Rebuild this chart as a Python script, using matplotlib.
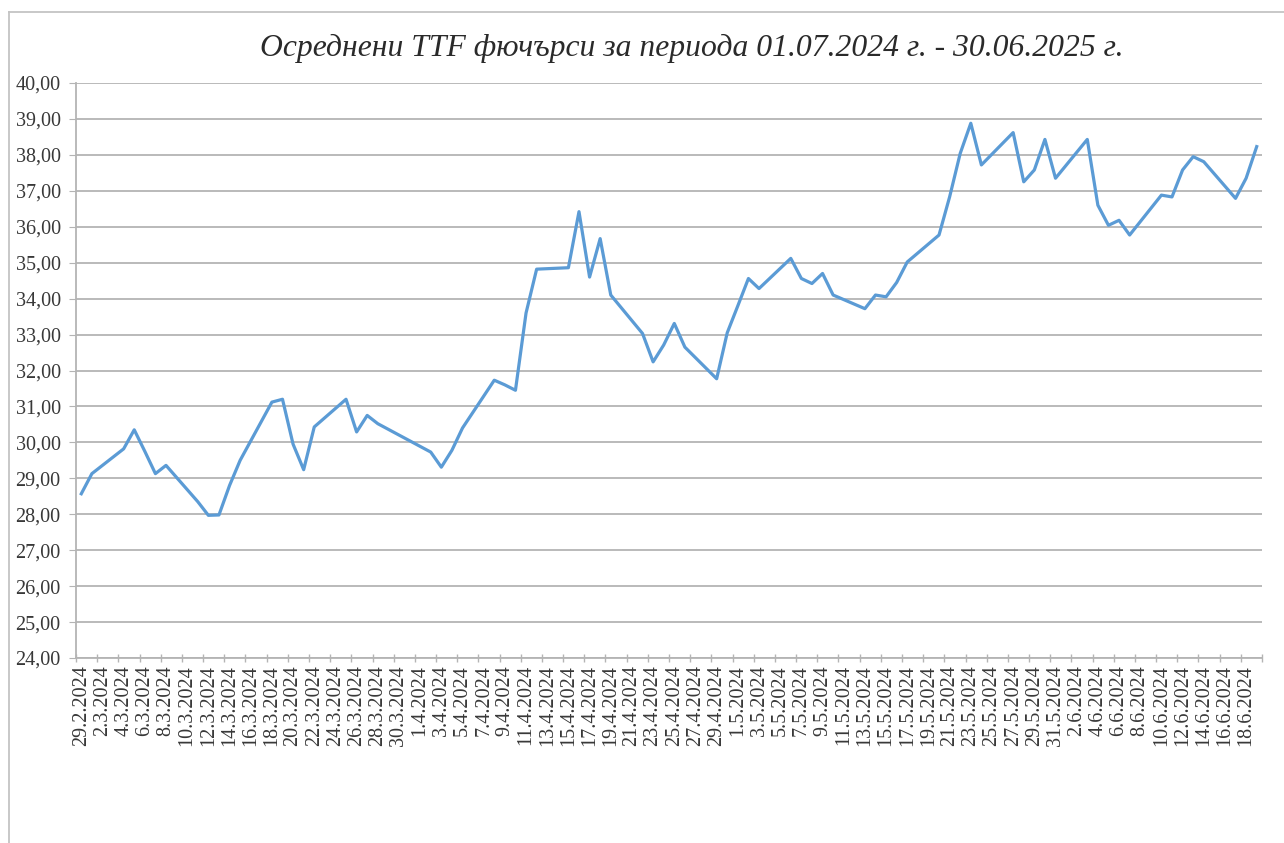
import datetime as dt
import numpy as np
import matplotlib
matplotlib.use("Agg")
import matplotlib.pyplot as plt
import matplotlib.dates as mdates
from matplotlib.lines import Line2D
from matplotlib.ticker import FixedLocator, FuncFormatter, MultipleLocator

# trading days and averaged TTF futures prices
dates = [
    "29.2.2024", "1.3.2024", "4.3.2024", "5.3.2024", "6.3.2024", "7.3.2024", "8.3.2024",
    "11.3.2024", "12.3.2024", "13.3.2024", "14.3.2024", "15.3.2024",
    "18.3.2024", "19.3.2024", "20.3.2024", "21.3.2024", "22.3.2024",
    "25.3.2024", "26.3.2024", "27.3.2024", "28.3.2024",
    "2.4.2024", "3.4.2024", "4.4.2024", "5.4.2024",
    "8.4.2024", "9.4.2024", "10.4.2024", "11.4.2024", "12.4.2024",
    "15.4.2024", "16.4.2024", "17.4.2024", "18.4.2024", "19.4.2024",
    "22.4.2024", "23.4.2024", "24.4.2024", "25.4.2024", "26.4.2024",
    "29.4.2024", "30.4.2024", "1.5.2024", "2.5.2024", "3.5.2024",
    "6.5.2024", "7.5.2024", "8.5.2024", "9.5.2024", "10.5.2024",
    "13.5.2024", "14.5.2024", "15.5.2024", "16.5.2024", "17.5.2024",
    "20.5.2024", "21.5.2024", "22.5.2024", "23.5.2024", "24.5.2024",
    "27.5.2024", "28.5.2024", "29.5.2024", "30.5.2024", "31.5.2024",
    "3.6.2024", "4.6.2024", "5.6.2024", "6.6.2024", "7.6.2024",
    "10.6.2024", "11.6.2024", "12.6.2024", "13.6.2024", "14.6.2024",
    "17.6.2024", "18.6.2024", "19.6.2024",
]
prices = [
    28.57, 29.13, 29.82, 30.35, 29.75, 29.13, 29.36,
    28.35, 27.97, 27.98, 28.80, 29.50,
    31.12, 31.20, 29.95, 29.24, 30.43,
    31.20, 30.29, 30.75, 30.52,
    29.73, 29.31, 29.78, 30.40,
    31.73, 31.60, 31.45, 33.60, 34.82,
    34.86, 36.42, 34.60, 35.67, 34.10,
    33.03, 32.24, 32.71, 33.31, 32.65,
    31.77, 33.05, 33.80, 34.56, 34.28,
    35.12, 34.56, 34.42, 34.70, 34.10,
    33.72, 34.10, 34.05, 34.45, 35.02,
    35.77, 36.83, 38.04, 38.88, 37.72,
    38.62, 37.25, 37.58, 38.43, 37.35,
    38.43, 36.60, 36.04, 36.18, 35.77,
    36.88, 36.83, 37.58, 37.95, 37.81,
    36.79, 37.35, 38.23,
]

TITLE = "Осреднени TTF фючърси за периода 01.07.2024 г. - 30.06.2025 г."
LINE_COLOR = "#5B9BD5"
GRID_COLOR = "#b4b4b4"
FONT = "Liberation Serif"

x = mdates.date2num([dt.datetime.strptime(s, "%d.%m.%Y") for s in dates])

W, H = 1284, 843
fig = plt.figure(figsize=(W / 100, H / 100), dpi=100)
ax = fig.add_axes([76 / W, 1 - 658 / H, (1262 - 76) / W, (658 - 83) / H])

ax.plot(x, prices, color=LINE_COLOR, lw=2.3, solid_joinstyle="round", zorder=3)

ax.set_xlim(x[0] - 0.5, x[-1] + 0.5)
ax.set_ylim(24, 40)

# labels every 2 days, tick marks between them
ax.xaxis.set_major_locator(FixedLocator(np.arange(x[0], x[-1] + 0.1, 2)))
ax.xaxis.set_minor_locator(FixedLocator(np.arange(x[0] - 0.5, x[-1] + 0.6, 2)))
ax.xaxis.set_major_formatter(FuncFormatter(
    lambda v, p: "{0.day}.{0.month}.{0.year}".format(mdates.num2date(v))))
ax.yaxis.set_major_locator(MultipleLocator(1))
ax.yaxis.set_major_formatter(FuncFormatter(lambda v, p: f"{v:.2f}".replace(".", ",")))

ax.tick_params(axis="x", which="major", length=0, pad=5, rotation=90,
               labelsize=14.5, labelcolor="#383838")
ax.tick_params(axis="x", which="minor", length=6, direction="inout",
               color=GRID_COLOR, width=1)
ax.tick_params(axis="y", length=5, direction="out", color=GRID_COLOR,
               pad=6, labelsize=14.5, labelcolor="#383838")
for lab in ax.get_xticklabels() + ax.get_yticklabels():
    lab.set_fontfamily(FONT)

ax.grid(axis="y", color=GRID_COLOR, lw=1.3)
ax.set_axisbelow(True)
for side in ("top", "right"):
    ax.spines[side].set_visible(False)
for side in ("left", "bottom"):
    ax.spines[side].set_color(GRID_COLOR)
    ax.spines[side].set_linewidth(1.3)

fig.text(692 / W, 1 - 56 / H, TITLE, ha="center", va="baseline",
         fontsize=22.8, fontstyle="italic", family=FONT, color="#2a2a2a")

# chart-area border (cropped on the right and bottom)
fig.add_artist(Line2D([9 / W, 9 / W], [0, 1 - 12 / H], transform=fig.transFigure,
                      color="#c4c4c4", lw=1.3))
fig.add_artist(Line2D([9 / W, 1], [1 - 12 / H, 1 - 12 / H], transform=fig.transFigure,
                      color="#c4c4c4", lw=1.3))

fig.savefig("out.png", dpi=100, facecolor="white")
